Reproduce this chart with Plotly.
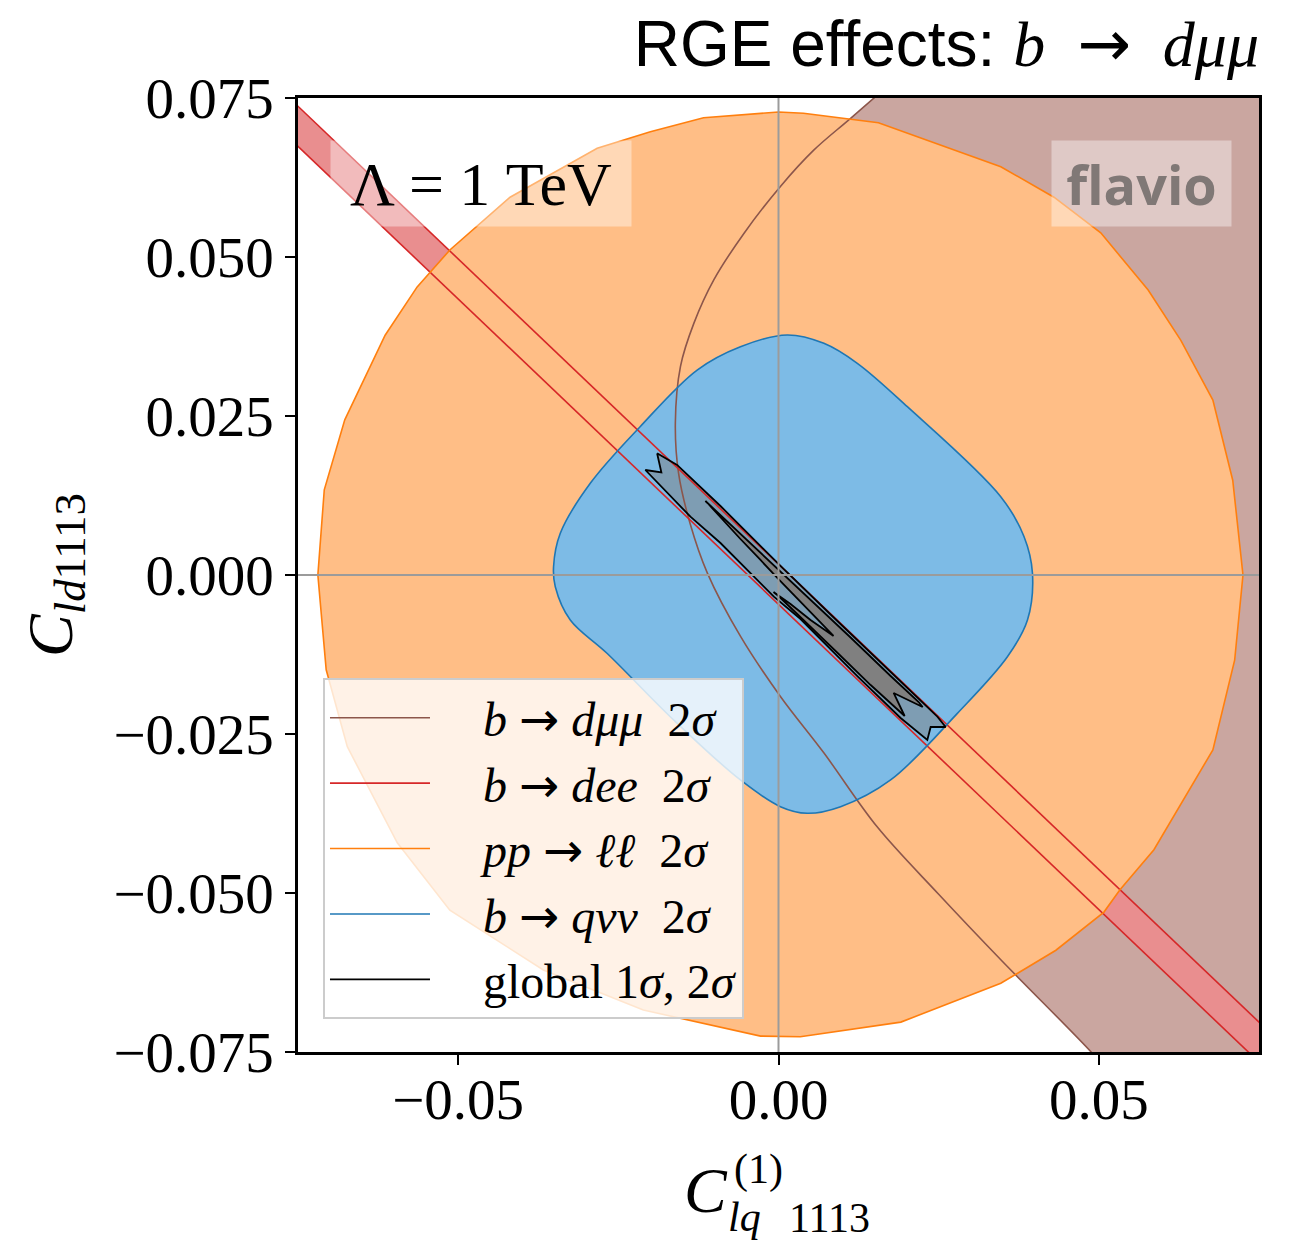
import plotly.graph_objects as go

# ---------------- data (data units) ----------------
# pp -> ll 2sigma contour (orange)
orange_x = [0.0, 0.0039, 0.0156, 0.0347, 0.0430, 0.0503, 0.0577, 0.0628, 0.0678, 0.0709, 0.0725,
            0.0712, 0.0678, 0.0586, 0.0533, 0.0508, 0.0433, 0.0347, 0.0191, 0.0034, -0.0028,
            -0.0211, -0.0367, -0.0513, -0.0595, -0.0673, -0.0706, -0.0719, -0.0709, -0.0677,
            -0.0614, -0.0564, -0.0513, -0.0419, -0.0283, -0.0200, -0.0117, 0.0]
orange_y = [0.0728, 0.0726, 0.0711, 0.0642, 0.0594, 0.0538, 0.0448, 0.0369, 0.0275, 0.0149, 0.0,
            -0.0134, -0.0275, -0.0432, -0.0495, -0.0530, -0.0590, -0.0642, -0.0703, -0.0726, -0.0725,
            -0.0684, -0.0621, -0.0527, -0.0421, -0.0270, -0.0149, 0.0, 0.0134, 0.0244,
            0.0377, 0.0453, 0.0511, 0.0594, 0.0671, 0.0697, 0.0719, 0.0728]

# b -> q nu nu 2sigma contour (blue)
blue_x = [0.00136, 0.00708, 0.0123, 0.02011, 0.03469, 0.03833, 0.03964, 0.03886, 0.03573, 0.02792,
          0.0175, 0.00969, 0.00448, 0.0003, -0.00594, -0.01636, -0.02677, -0.0325, -0.03484,
          -0.03511, -0.03406, -0.02938, -0.0216, -0.0127, -0.00594, 0.00136]
blue_y = [0.03774, 0.03643, 0.03329, 0.02646, 0.01231, 0.00602, 0.00027, -0.00708, -0.01285, -0.02175,
          -0.03223, -0.03643, -0.03747, -0.03643, -0.03223, -0.0228, -0.01231, -0.00708, -0.00184,
          0.0013, 0.00656, 0.01442, 0.02332, 0.03223, 0.0359, 0.03774]

# b -> d mu mu 2sigma boundary (brown); allowed region lies to its right
brown_x = [0.0181, 0.01125, 0.0055, 0.0003, -0.0054, -0.0101, -0.0132, -0.0153, -0.0161, -0.0156,
           -0.0138, -0.0111, -0.0059, 0.0003, 0.0071, 0.0154, 0.0250, 0.0347, 0.0488, 0.0519]
brown_y = [0.0778, 0.0718, 0.0668, 0.0611, 0.0537, 0.0464, 0.0396, 0.0328, 0.0239, 0.0160,
           0.0081, 0.0003, -0.0097, -0.0191, -0.0280, -0.0396, -0.0502, -0.0605, -0.0750, -0.0786]
brown_edge_x = [0.08, 0.08]
brown_edge_y = [-0.0786, 0.0778]

# b -> d e e 2sigma band (red): two boundary lines
red_upper_x = [-0.08, 0.08]
red_upper_y = [0.0785, -0.0751]
red_lower_x = [-0.08, 0.08]
red_lower_y = [0.0722, -0.0814]

# global fit contours (black)
g2_x = [-0.01895, -0.01583, -0.00906, 0.00031, 0.00813, 0.01594, 0.02480, 0.02609, 0.02375, 0.02323,
        0.01906, 0.01230, 0.00344, -0.00073, -0.00906, -0.01375, -0.02078, -0.01828, -0.01895]
g2_y = [0.01914, 0.01730, 0.01085, 0.00142, -0.00621, -0.01368, -0.02228, -0.02390, -0.02390, -0.02594,
        -0.02248, -0.01590, -0.00692, -0.00341, 0.00503, 0.00917, 0.01651, 0.01612, 0.01914]
g1_x = [-0.01141, -0.00594, 0.0, 0.00500, 0.01125, 0.01750, 0.02188, 0.02250, 0.01797, 0.01969,
        0.01438, 0.00891, 0.00344, 0.0, -0.00078, 0.00188, 0.00500, 0.00859, 0.00500, 0.00188,
        0.0, -0.00281, -0.00594, -0.01109, -0.01141]
g1_y = [0.01164, 0.00645, 0.00094, -0.00377, -0.00983, -0.01588, -0.01997, -0.02075, -0.01855, -0.02217,
        -0.01730, -0.01195, -0.00660, -0.00330, -0.00267, -0.00456, -0.00708, -0.00959, -0.00582, -0.00267,
        -0.00063, 0.00236, 0.00566, 0.01132, 0.01164]

x_tickvals = [-0.05, 0.0, 0.05]
x_ticktext = ["\u22120.05", "0.00", "0.05"]
y_tickvals = [0.075, 0.05, 0.025, 0.0, -0.025, -0.05, -0.075]
y_ticktext = ["0.075", "0.050", "0.025", "0.000", "\u22120.025", "\u22120.050", "\u22120.075"]

ARROW = '<span style="font-family:DejaVu Sans">\u2192</span>'
legend_labels = [
    "\u2003<i>b</i> " + ARROW + " <i>d\u03bc\u03bc</i>  2<i>\u03c3</i>",
    "\u2003<i>b</i> " + ARROW + " <i>dee</i>  2<i>\u03c3</i>",
    "\u2003<i>pp</i> " + ARROW + " <i>\u2113\u2113</i>  2<i>\u03c3</i>",
    "\u2003<i>b</i> " + ARROW + " <i>q\u03bd\u03bd</i>  2<i>\u03c3</i>",
    "\u2003global 1<i>\u03c3</i>, 2<i>\u03c3</i>",
]
title_text = ('<span style="font-family:Liberation Sans">RGE effects: </span>'
              '<span style="font-family:Liberation Serif"><i>b</i>\u2002</span>'
              + ARROW +
              '<span style="font-family:Liberation Serif">\u2002<i>d\u03bc\u03bc</i></span>')

# ---------------- styles ----------------
SERIF = "Liberation Serif"
BROWN, BROWN_F = "rgb(140,86,75)", "rgb(202,166,160)"
RED, RED_F = "rgb(214,39,40)", "rgb(233,142,143)"
ORANGE, ORANGE_F = "rgb(255,127,14)", "rgb(255,190,134)"
BLUE, BLUE_F = "rgb(31,119,180)", "rgb(125,187,230)"

fig = go.Figure()

def fill(x, y, color, shape="linear"):
    fig.add_trace(go.Scatter(x=x, y=y, mode="lines", fill="toself", fillcolor=color,
                             line=dict(width=0, color=color, shape=shape),
                             showlegend=False, hoverinfo="skip"))

# filled regions (back to front)
fill(brown_x + brown_edge_x, brown_y + brown_edge_y, BROWN_F, "spline")
fill(red_upper_x + red_lower_x[::-1], red_upper_y + red_lower_y[::-1], RED_F)
fill(orange_x, orange_y, ORANGE_F)
fill(blue_x, blue_y, BLUE_F, "spline")
fill(g2_x, g2_y, "rgba(128,128,128,0.5)")
fill(g1_x, g1_y, "rgb(128,128,128)")

# contour lines
def line(x, y, color, name, width=1.6, shape="linear", show=True, group=None):
    fig.add_trace(go.Scatter(x=x, y=y, mode="lines", name=name,
                             line=dict(color=color, width=width, shape=shape),
                             showlegend=show, legendgroup=group, hoverinfo="skip"))

line(brown_x, brown_y, BROWN, legend_labels[0], shape="spline", group="g0")
line(red_upper_x, red_upper_y, RED, legend_labels[1], group="g1")
line(red_lower_x, red_lower_y, RED, legend_labels[1], show=False, group="g1")
line(orange_x, orange_y, ORANGE, legend_labels[2], group="g2")
line(blue_x, blue_y, BLUE, legend_labels[3], shape="spline", group="g3")
line(g2_x, g2_y, "black", legend_labels[4], width=1.8, group="g4")
line(g1_x, g1_y, "black", legend_labels[4], width=1.8, show=False, group="g4")

# zero lines
fig.add_vline(x=0, line=dict(color="rgb(155,155,155)", width=2), layer="above")
fig.add_hline(y=0, line=dict(color="rgb(155,155,155)", width=2), layer="above")

axis_common = dict(range=[-0.075, 0.075], showgrid=False, zeroline=False,
                   showline=True, linecolor="black", linewidth=2.5, mirror=True,
                   ticks="outside", ticklen=10, tickwidth=2, tickcolor="black",
                   tickfont=dict(family=SERIF, size=57, color="black"))

fig.update_layout(
    width=1290, height=1242, autosize=False,
    margin=dict(l=298, r=31, t=98, b=190),
    paper_bgcolor="white", plot_bgcolor="white",
    xaxis=dict(**axis_common, tickvals=x_tickvals, ticktext=x_ticktext, ticklabelstandoff=-14),
    yaxis=dict(**axis_common, tickvals=y_tickvals, ticktext=y_ticktext, ticklabelstandoff=0),
    title=dict(text=title_text,
               x=1, xref="paper", xanchor="right", y=1 - 44 / 1242, yref="container", yanchor="middle",
               font=dict(size=64, color="black", family="Liberation Sans")),
    legend=dict(x=0.026, y=0.392, xanchor="left", yanchor="top",
                bgcolor="rgba(255,255,255,0.8)", bordercolor="rgb(204,204,204)", borderwidth=2,
                font=dict(family=SERIF, size=48, color="black"),
                itemwidth=100, tracegroupgap=12, traceorder="normal"),
    showlegend=True,
)

ann = []
ann.append(dict(text="\u039b = 1 TeV", x=0.1904, y=0.9104, xref="paper", yref="paper",
                showarrow=False, xanchor="center", yanchor="middle", width=298, height=83,
                bgcolor="rgba(255,255,255,0.4)", font=dict(family=SERIF, size=62, color="black")))
ann.append(dict(text="<b>flavio</b>", x=0.8777, y=0.9104, xref="paper", yref="paper",
                showarrow=False, xanchor="center", yanchor="middle", width=177, height=83,
                bgcolor="rgba(255,255,255,0.4)", font=dict(family="Open Sans", size=54, color="rgb(128,120,118)")))
# y axis label
ann.append(dict(text="<i>C</i><sub><i>ld</i>1113</sub>", x=-0.2529, y=0.5, xref="paper", yref="paper",
                showarrow=False, xanchor="center", yanchor="middle", textangle=-90,
                font=dict(family=SERIF, size=64, color="black")))
# x axis label pieces
ann.append(dict(text="<i>C</i>", x=0.4245, y=-0.1447, xref="paper", yref="paper", showarrow=False,
                xanchor="center", yanchor="middle", font=dict(family=SERIF, size=64, color="black")))
ann.append(dict(text="(1)", x=0.4790, y=-0.1230, xref="paper", yref="paper", showarrow=False,
                xanchor="center", yanchor="middle", font=dict(family=SERIF, size=42, color="black")))
ann.append(dict(text="<i>lq</i>", x=0.4651, y=-0.1730, xref="paper", yref="paper", showarrow=False,
                xanchor="center", yanchor="middle", font=dict(family=SERIF, size=42, color="black")))
ann.append(dict(text="1113", x=0.5526, y=-0.1740, xref="paper", yref="paper", showarrow=False,
                xanchor="center", yanchor="middle", font=dict(family=SERIF, size=42, color="black")))
fig.update_layout(annotations=ann)

fig.write_html("out.html")
